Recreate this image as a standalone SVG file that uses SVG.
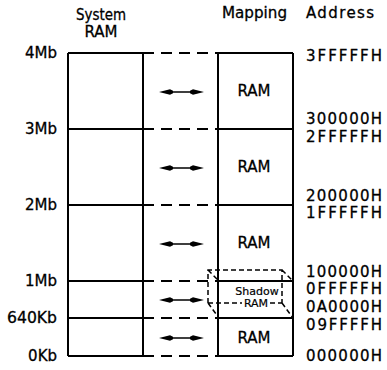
<svg xmlns="http://www.w3.org/2000/svg" width="387" height="370" viewBox="0 0 387 370">
<defs>
<style>
text{font-family:"DejaVu Sans","Liberation Sans",sans-serif;fill:#000;stroke:#000;stroke-width:0.3}
.hd{font-size:15px}
.lb{font-size:15px;text-anchor:end}
.ad{font-size:15px}
.ram{font-size:15px;text-anchor:middle}
.sm{font-size:11px;text-anchor:middle;stroke-width:0.2}
.solid{stroke:#000;stroke-width:2;fill:none}
.dash{stroke:#000;stroke-width:2;fill:none;stroke-dasharray:11 7}
.sdash{stroke:#000;stroke-width:1.5;fill:none;stroke-dasharray:5 3}
.shaft{stroke:#000;stroke-width:1.5}
.head{fill:#000}
</style>
<g id="ah">
<path class="head" d="M0,0 L11,-2.7 L14,-1.2 L14,1.2 L11,2.7 Z"/>
</g>
</defs>
<g id="headers">
<text class="hd" x="101" y="20" text-anchor="middle" textLength="50" lengthAdjust="spacingAndGlyphs">System</text>
<text class="hd" x="101" y="37" text-anchor="middle">RAM</text>
<text class="hd" x="222" y="18" textLength="65" lengthAdjust="spacingAndGlyphs">Mapping</text>
<text class="hd" x="306" y="18" textLength="68" lengthAdjust="spacing">Address</text>
</g>
<g id="system-ram">
<path class="solid" d="M68,53V356M143,53V356M68,53H143M68,129H143M68,205H143M68,281H143M68,318H143M68,356H143"/>
<text class="lb" x="57" y="58">4Mb</text>
<text class="lb" x="57" y="134">3Mb</text>
<text class="lb" x="57" y="210">2Mb</text>
<text class="lb" x="57" y="286">1Mb</text>
<text class="lb" x="57" y="323" textLength="50" lengthAdjust="spacingAndGlyphs">640Kb</text>
<text class="lb" x="57" y="361">0Kb</text>
</g>
<g id="mapping">
<path class="solid" d="M218,53V356M293,53V356M218,53H293M218,129H293M218,205H293M218,281H293M218,318H293M218,356H293"/>
<text class="ram" x="254" y="96">RAM</text>
<text class="ram" x="254" y="172">RAM</text>
<text class="ram" x="254" y="248">RAM</text>
<text class="ram" x="254" y="343">RAM</text>
</g>
<g id="shadow-ram">
<path class="sdash" d="M208,303V270H282V303M208,270L219,281M282,270L293,281M208,303L219,318M282,303L293,318M208,303H242M270,303H282"/>
<text class="sm" x="257" y="295">Shadow</text>
<text class="sm" x="256" y="307">RAM</text>
</g>
<g id="addresses">
<text class="ad" x="306" y="61" textLength="76" lengthAdjust="spacing">3FFFFFH</text>
<text class="ad" x="306" y="124" textLength="76" lengthAdjust="spacing">300000H</text>
<text class="ad" x="306" y="142" textLength="76" lengthAdjust="spacing">2FFFFFH</text>
<text class="ad" x="306" y="201" textLength="76" lengthAdjust="spacing">200000H</text>
<text class="ad" x="306" y="218" textLength="76" lengthAdjust="spacing">1FFFFFH</text>
<text class="ad" x="306" y="277" textLength="76" lengthAdjust="spacing">100000H</text>
<text class="ad" x="306" y="294" textLength="76" lengthAdjust="spacing">0FFFFFH</text>
<text class="ad" x="306" y="312" textLength="76" lengthAdjust="spacing">0A0000H</text>
<text class="ad" x="306" y="330" textLength="76" lengthAdjust="spacing">09FFFFH</text>
<text class="ad" x="306" y="361" textLength="76" lengthAdjust="spacing">000000H</text>
</g>
<g id="connectors">
<path class="dash" d="M143,53H218M143,129H218M143,205H218M143,281H218M143,318H218M143,356H218"/>
<path class="shaft" d="M170,92H193M170,168H193M170,244H193M170,300H193M170,338H193"/>
<use href="#ah" transform="translate(159,92)"/>
<use href="#ah" transform="translate(204,92) scale(-1,1)"/>
<use href="#ah" transform="translate(159,168)"/>
<use href="#ah" transform="translate(204,168) scale(-1,1)"/>
<use href="#ah" transform="translate(159,244)"/>
<use href="#ah" transform="translate(204,244) scale(-1,1)"/>
<use href="#ah" transform="translate(159,300)"/>
<use href="#ah" transform="translate(204,300) scale(-1,1)"/>
<use href="#ah" transform="translate(159,338)"/>
<use href="#ah" transform="translate(204,338) scale(-1,1)"/>
</g>
</svg>
